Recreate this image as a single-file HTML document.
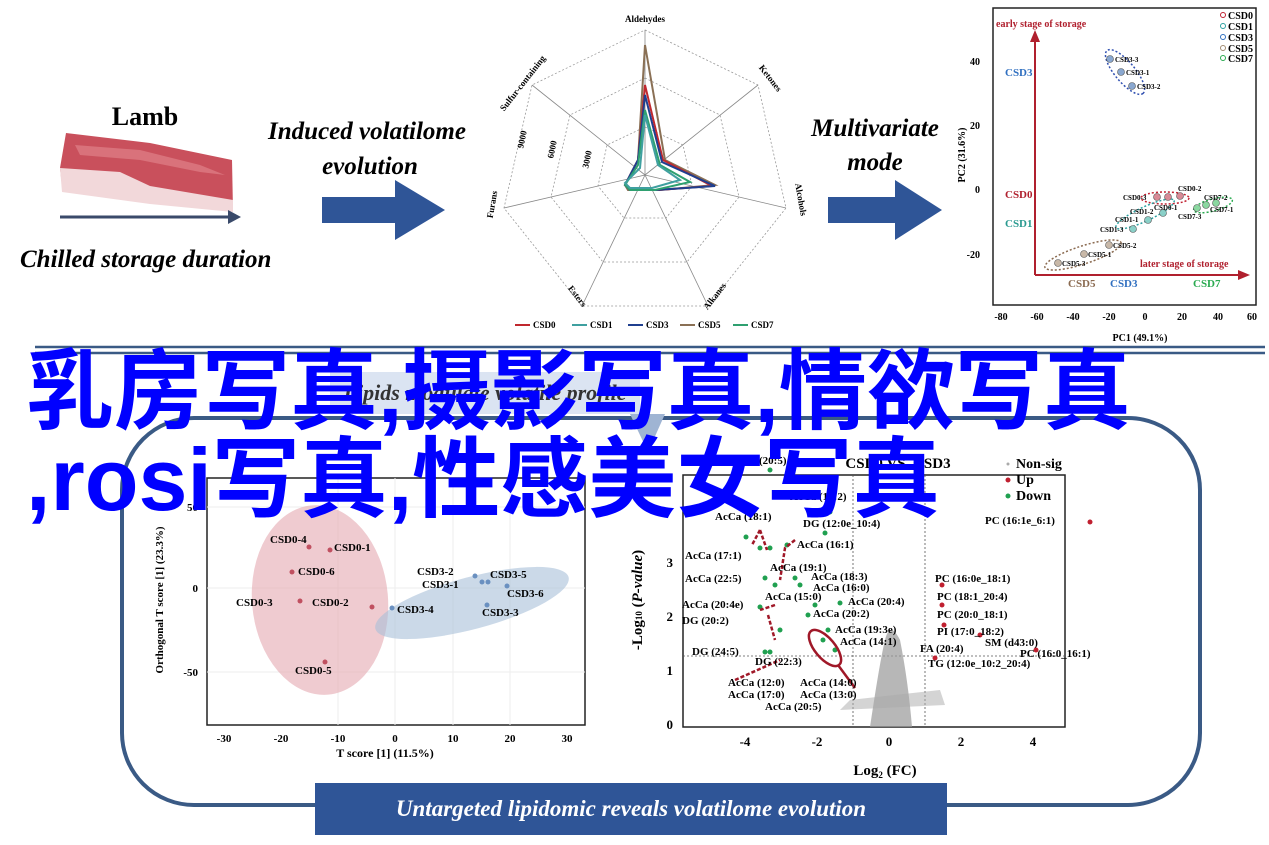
<!DOCTYPE html>
<html><head><meta charset="utf-8"><style>
body{margin:0;width:1269px;height:845px;background:#fff;overflow:hidden;position:relative;font-family:"Liberation Serif",serif}
svg{position:absolute;left:0;top:0}
.big{position:absolute;left:26px;color:#0000ff;font-family:"Liberation Sans","Noto Sans CJK SC",sans-serif;font-size:88px;line-height:88px;white-space:nowrap;font-weight:bold}
</style></head><body>
<svg width="1269" height="845" viewBox="0 0 1269 845" font-family="Liberation Serif, serif" font-weight="bold">
<!-- Lamb -->
<text x="145" y="125" font-size="26" text-anchor="middle">Lamb</text>
<path d="M66 133 L150 143 L232 160 L233 210 L150 200 L62 186 L60 168 Z" fill="#c9505c"/>
<path d="M60 168 L120 172 L150 186 L233 200 L233 212 L150 204 L62 192 Z" fill="#f2d8da"/>
<path d="M75 145 L140 150 L200 165 L225 175 L200 172 L140 160 L80 155 Z" fill="#e48890" opacity="0.6"/>
<line x1="60" y1="217" x2="232" y2="217" stroke="#3a4a6a" stroke-width="3"/>
<polygon points="241,217 228,210 228,224" fill="#3a4a6a"/>
<text x="20" y="267" font-size="25" font-style="italic">Chilled storage duration</text>
<text x="367" y="139" font-size="25" font-style="italic" text-anchor="middle">Induced volatilome</text>
<text x="370" y="174" font-size="25" font-style="italic" text-anchor="middle">evolution</text>
<polygon points="322,197 395,197 395,180 445,210 395,240 395,223 322,223" fill="#2f5597"/>
<text x="875" y="136" font-size="25" font-style="italic" text-anchor="middle">Multivariate</text>
<text x="875" y="170" font-size="25" font-style="italic" text-anchor="middle">mode</text>
<polygon points="828,197 895,197 895,180 942,210 895,240 895,223 828,223" fill="#2f5597"/>
<!-- radar -->
<g fill="none" stroke="#999" stroke-width="0.8" stroke-dasharray="2,2">
<polygon points="645,30 758,85 786,208 708,306 582,306 504,208 532,85"/>
<polygon points="645,78 720,115 739,197 687,262 603,262 551,197 570,115"/>
<polygon points="645,127 683,145 692,186 666,218 624,218 598,186 607,145"/>
</g>
<g stroke="#888" stroke-width="0.8">
<line x1="645" y1="175" x2="645" y2="30"/><line x1="645" y1="175" x2="758" y2="85"/><line x1="645" y1="175" x2="786" y2="208"/><line x1="645" y1="175" x2="708" y2="306"/><line x1="645" y1="175" x2="582" y2="306"/><line x1="645" y1="175" x2="504" y2="208"/><line x1="645" y1="175" x2="532" y2="85"/>
</g>
<g fill="none" stroke-width="2">
<polygon points="645,45 665,160 715,185 660,190 628,190 625,185 638,160" stroke="#8a7055"/>
<polygon points="645,85 663,160 712,186 658,190 630,190 625,185 638,160" stroke="#c0282e"/>
<polygon points="645,95 662,162 715,186 656,190 630,190 625,185 638,160" stroke="#1f3f8f"/>
<polygon points="645,110 660,165 690,182 655,190 630,190 625,185 638,165" stroke="#2fa070"/>
<polygon points="645,115 658,165 680,180 652,188 630,188 625,183 640,168" stroke="#3fa0a0"/>
</g>
<g font-size="9" text-anchor="middle"><text x="645" y="22">Aldehydes</text>
<text x="768" y="80" transform="rotate(52 768 80)">Ketones</text>
<text x="798" y="200" transform="rotate(80 798 200)">Alcohols</text>
<text x="717" y="298" transform="rotate(-52 717 298)">Alkanes</text>
<text x="575" y="298" transform="rotate(52 575 298)">Esters</text>
<text x="495" y="205" transform="rotate(-80 495 205)">Furans</text>
<text x="525" y="85" transform="rotate(-52 525 85)">Sulfur-containing</text>
<text x="525" y="140" transform="rotate(-78 525 140)">9000</text>
<text x="555" y="150" transform="rotate(-78 555 150)">6000</text>
<text x="590" y="160" transform="rotate(-78 590 160)">3000</text>
</g>
<g font-size="9"><line x1="515" y1="325" x2="530" y2="325" stroke="#c0282e" stroke-width="2"/><text x="533" y="328">CSD0</text>
<line x1="572" y1="325" x2="587" y2="325" stroke="#3fa0a0" stroke-width="2"/><text x="590" y="328">CSD1</text>
<line x1="628" y1="325" x2="643" y2="325" stroke="#1f3f8f" stroke-width="2"/><text x="646" y="328">CSD3</text>
<line x1="680" y1="325" x2="695" y2="325" stroke="#8a7055" stroke-width="2"/><text x="698" y="328">CSD5</text>
<line x1="733" y1="325" x2="748" y2="325" stroke="#2fa070" stroke-width="2"/><text x="751" y="328">CSD7</text></g>
<!-- PCA -->
<rect x="993" y="8" width="263" height="297" fill="none" stroke="#222" stroke-width="1.5"/>
<g font-size="10" text-anchor="middle"><text x="1001" y="320">-80</text><text x="1037" y="320">-60</text><text x="1073" y="320">-40</text><text x="1109" y="320">-20</text><text x="1145" y="320">0</text><text x="1182" y="320">20</text><text x="1218" y="320">40</text><text x="1252" y="320">60</text>
<text x="1140" y="341" font-size="10">PC1 (49.1%)</text>
<text x="980" y="65" text-anchor="end">40</text><text x="980" y="129" text-anchor="end">20</text><text x="980" y="193" text-anchor="end">0</text><text x="980" y="258" text-anchor="end">-20</text>
<text x="965" y="155" transform="rotate(-90 965 155)">PC2 (31.6%)</text></g>
<line x1="1035" y1="275" x2="1240" y2="275" stroke="#b0202e" stroke-width="2"/><polygon points="1250,275 1238,270 1238,280" fill="#b0202e"/>
<line x1="1035" y1="275" x2="1035" y2="40" stroke="#b0202e" stroke-width="2"/><polygon points="1035,30 1030,42 1040,42" fill="#b0202e"/>
<text x="996" y="27" font-size="10" fill="#b0202e">early stage of storage</text>
<text x="1140" y="267" font-size="10" fill="#b0202e">later stage of storage</text>
<g font-size="11"><text x="1005" y="76" fill="#2f6fc0">CSD3</text><text x="1005" y="198" fill="#b0202e">CSD0</text><text x="1005" y="227" fill="#2a9a90">CSD1</text>
<text x="1068" y="287" fill="#8a6a50">CSD5</text><text x="1110" y="287" fill="#2f6fc0">CSD3</text><text x="1193" y="287" fill="#2aaa50">CSD7</text></g>
<g fill="none" stroke-dasharray="2,2" stroke-width="1.5"><ellipse cx="1125" cy="72" rx="28" ry="10" transform="rotate(50 1125 72)" stroke="#2f4fb0"/>
<ellipse cx="1165" cy="198" rx="24" ry="6" stroke="#c02030"/><ellipse cx="1145" cy="214" rx="32" ry="7" transform="rotate(-25 1145 214)" stroke="#2aa0a0"/>
<ellipse cx="1213" cy="205" rx="20" ry="6" transform="rotate(-15 1213 205)" stroke="#2aaa50"/><ellipse cx="1083" cy="255" rx="40" ry="9" transform="rotate(-18 1083 255)" stroke="#8a6a50"/></g>
<g stroke="#555" stroke-width="0.6"><circle cx="1110" cy="59" r="3.5" fill="#8aa8d0"/><circle cx="1121" cy="72" r="3.5" fill="#8aa8d0"/><circle cx="1132" cy="86" r="3.5" fill="#8aa8d0"/>
<circle cx="1157" cy="197" r="3.5" fill="#d88a96"/><circle cx="1168" cy="197" r="3.5" fill="#d88a96"/><circle cx="1180" cy="196" r="3.5" fill="#d88a96"/>
<circle cx="1163" cy="213" r="3.5" fill="#8ad0c8"/><circle cx="1148" cy="220" r="3.5" fill="#8ad0c8"/><circle cx="1133" cy="229" r="3.5" fill="#8ad0c8"/>
<circle cx="1197" cy="208" r="3.5" fill="#8ad8a0"/><circle cx="1206" cy="205" r="3.5" fill="#8ad8a0"/><circle cx="1216" cy="203" r="3.5" fill="#8ad8a0"/>
<circle cx="1109" cy="245" r="3.5" fill="#c8b8a8"/><circle cx="1084" cy="254" r="3.5" fill="#c8b8a8"/><circle cx="1058" cy="263" r="3.5" fill="#c8b8a8"/></g>
<g font-size="7"><text x="1115" y="62">CSD3-3</text><text x="1126" y="75">CSD3-1</text><text x="1137" y="89">CSD3-2</text><text x="1123" y="200">CSD0-3</text><text x="1178" y="191">CSD0-2</text><text x="1154" y="210">CSD0-1</text><text x="1130" y="214">CSD1-2</text><text x="1115" y="222">CSD1-1</text><text x="1100" y="232">CSD1-3</text><text x="1204" y="200">CSD7-2</text><text x="1210" y="212">CSD7-1</text><text x="1178" y="219">CSD7-3</text><text x="1113" y="248">CSD5-2</text><text x="1088" y="257">CSD5-1</text><text x="1062" y="266">CSD5-3</text></g>
<g font-size="10"><circle cx="1223" cy="15" r="2.5" fill="none" stroke="#c02030"/><text x="1228" y="19">CSD0</text><circle cx="1223" cy="26" r="2.5" fill="none" stroke="#2aa0a0"/><text x="1228" y="30">CSD1</text><circle cx="1223" cy="37" r="2.5" fill="none" stroke="#2f6fc0"/><text x="1228" y="41">CSD3</text><circle cx="1223" cy="48" r="2.5" fill="none" stroke="#a08a70"/><text x="1228" y="52">CSD5</text><circle cx="1223" cy="58" r="2.5" fill="none" stroke="#2aaa50"/><text x="1228" y="62">CSD7</text></g>
<!-- separator -->
<line x1="35" y1="347" x2="1265" y2="347" stroke="#3a5a85" stroke-width="2.5"/><line x1="35" y1="353" x2="1265" y2="353" stroke="#3a5a85" stroke-width="2.5"/>
<!-- lower box -->
<rect x="122" y="418" width="1078" height="387" rx="72" fill="none" stroke="#3a5a85" stroke-width="4"/>
<rect x="330" y="372" width="310" height="42" fill="#dbe4f2"/>
<polygon points="630,414 665,414 648,452" fill="#9fb4d3"/>
<text x="485" y="400" font-size="22" font-style="italic" text-anchor="middle" fill="#333">Lipids modulate volatile profile</text>
<rect x="315" y="783" width="632" height="52" fill="#2f5597"/>
<text x="631" y="816" font-size="23" font-style="italic" text-anchor="middle" fill="#fff">Untargeted lipidomic reveals volatilome evolution</text>
<!-- OPLS -->
<rect x="207" y="478" width="378" height="247" fill="none" stroke="#222" stroke-width="1.5"/>
<g stroke="#eee"><line x1="207" y1="507" x2="585" y2="507"/><line x1="207" y1="588" x2="585" y2="588"/><line x1="207" y1="672" x2="585" y2="672"/><line x1="338" y1="478" x2="338" y2="725"/><line x1="395" y1="478" x2="395" y2="725"/><line x1="453" y1="478" x2="453" y2="725"/><line x1="510" y1="478" x2="510" y2="725"/></g>
<ellipse cx="320" cy="600" rx="68" ry="95" transform="rotate(-5 320 600)" fill="#e5a8b0" opacity="0.6"/>
<ellipse cx="472" cy="603" rx="100" ry="26" transform="rotate(-15 472 603)" fill="#a8c0d8" opacity="0.6"/>
<g font-size="11" text-anchor="middle"><text x="224" y="742">-30</text><text x="281" y="742">-20</text><text x="338" y="742">-10</text><text x="395" y="742">0</text><text x="453" y="742">10</text><text x="510" y="742">20</text><text x="567" y="742">30</text>
<text x="385" y="757" font-size="12">T score [1] (11.5%)</text>
<text x="198" y="511" text-anchor="end">50</text><text x="198" y="592" text-anchor="end">0</text><text x="198" y="676" text-anchor="end">-50</text>
<text x="163" y="600" font-size="11" transform="rotate(-90 163 600)">Orthogonal T score [1] (23.3%)</text></g>
<g fill="#c05060"><circle cx="309" cy="547" r="2.5"/><circle cx="330" cy="550" r="2.5"/><circle cx="292" cy="572" r="2.5"/><circle cx="300" cy="601" r="2.5"/><circle cx="372" cy="607" r="2.5"/><circle cx="325" cy="662" r="2.5"/></g>
<g fill="#6a90c0"><circle cx="475" cy="576" r="2.5"/><circle cx="482" cy="582" r="2.5"/><circle cx="488" cy="582" r="2.5"/><circle cx="507" cy="586" r="2.5"/><circle cx="392" cy="608" r="2.5"/><circle cx="487" cy="605" r="2.5"/></g>
<g font-size="11"><text x="270" y="543">CSD0-4</text><text x="334" y="551">CSD0-1</text><text x="298" y="575">CSD0-6</text><text x="236" y="606">CSD0-3</text><text x="312" y="606">CSD0-2</text><text x="295" y="674">CSD0-5</text>
<text x="417" y="575">CSD3-2</text><text x="490" y="578">CSD3-5</text><text x="422" y="588">CSD3-1</text><text x="507" y="597">CSD3-6</text><text x="397" y="613">CSD3-4</text><text x="482" y="616">CSD3-3</text></g>
<!-- volcano -->
<text x="898" y="468" font-size="15" text-anchor="middle">CSD0 VS. CSD3</text>
<rect x="683" y="475" width="382" height="252" fill="none" stroke="#222" stroke-width="1.5"/>
<g stroke="#555" stroke-dasharray="2,2" stroke-width="0.8"><line x1="853" y1="475" x2="853" y2="727"/><line x1="925" y1="475" x2="925" y2="727"/><line x1="683" y1="656" x2="1065" y2="656"/></g>
<path d="M870 727 Q880 660 885 640 Q890 620 900 640 Q908 680 912 727 Z" fill="#999" opacity="0.7"/>
<path d="M850 700 L940 690 L945 705 L840 710 Z" fill="#aaa" opacity="0.5"/>
<g font-size="13" text-anchor="middle"><text x="745" y="746">-4</text><text x="817" y="746">-2</text><text x="889" y="746">0</text><text x="961" y="746">2</text><text x="1033" y="746">4</text>
<text x="885" y="775" font-size="15">Log<tspan font-size="9" dy="3">2</tspan><tspan dy="-3"> (FC)</tspan></text>
<text x="673" y="567" text-anchor="end">3</text><text x="673" y="621" text-anchor="end">2</text><text x="673" y="675" text-anchor="end">1</text><text x="673" y="729" text-anchor="end">0</text>
<text x="642" y="600" font-size="15" transform="rotate(-90 642 600)">-Log<tspan font-size="9">10</tspan> (<tspan font-style="italic">P-value</tspan>)</text></g>
<g font-size="14"><circle cx="1008" cy="464" r="1.5" fill="#aaa"/><text x="1016" y="468">Non-sig</text><circle cx="1008" cy="480" r="2.5" fill="#c02030"/><text x="1016" y="484">Up</text><circle cx="1008" cy="496" r="2.5" fill="#20a050"/><text x="1016" y="500">Down</text></g>
<g fill="#c02030"><circle cx="1090" cy="522" r="2.5"/><circle cx="942" cy="585" r="2.5"/><circle cx="942" cy="605" r="2.5"/><circle cx="944" cy="625" r="2.5"/><circle cx="980" cy="635" r="2.5"/><circle cx="1036" cy="650" r="2.5"/><circle cx="935" cy="658" r="2.5"/></g>
<g fill="#20a050"><circle cx="746" cy="537" r="2.5"/><circle cx="760" cy="548" r="2.5"/><circle cx="770" cy="548" r="2.5"/><circle cx="787" cy="545" r="2.5"/><circle cx="825" cy="533" r="2.5"/><circle cx="765" cy="578" r="2.5"/><circle cx="795" cy="578" r="2.5"/><circle cx="800" cy="585" r="2.5"/><circle cx="775" cy="585" r="2.5"/><circle cx="760" cy="607" r="2.5"/><circle cx="815" cy="605" r="2.5"/><circle cx="808" cy="615" r="2.5"/><circle cx="840" cy="603" r="2.5"/><circle cx="780" cy="630" r="2.5"/><circle cx="828" cy="630" r="2.5"/><circle cx="765" cy="652" r="2.5"/><circle cx="770" cy="652" r="2.5"/><circle cx="823" cy="640" r="2.5"/><circle cx="835" cy="650" r="2.5"/><circle cx="770" cy="470" r="2.5"/><circle cx="830" cy="512" r="2.5"/></g>
<g stroke="#a01828" stroke-width="2.5" fill="none" stroke-dasharray="4,2"><path d="M760 530 L767 550 M760 530 L752 545"/><path d="M795 540 L785 548 L780 580"/><path d="M775 605 L760 610"/><path d="M768 615 L775 640"/><path d="M735 680 L780 660"/></g>
<ellipse cx="825" cy="648" rx="10" ry="22" transform="rotate(-40 825 648)" fill="none" stroke="#a01828" stroke-width="2.5"/>
<line x1="838" y1="665" x2="855" y2="688" stroke="#a01828" stroke-width="2.5"/>
<g font-size="11"><text x="730" y="464">AcCa (20:5)</text><text x="790" y="500">AcCa (18:2)</text><text x="715" y="520">AcCa (18:1)</text><text x="803" y="527">DG (12:0e_10:4)</text><text x="797" y="548">AcCa (16:1)</text><text x="685" y="559">AcCa (17:1)</text><text x="770" y="571">AcCa (19:1)</text><text x="685" y="582">AcCa (22:5)</text><text x="811" y="580">AcCa (18:3)</text><text x="813" y="591">AcCa (16:0)</text><text x="765" y="600">AcCa (15:0)</text><text x="682" y="608">AcCa (20:4e)</text><text x="848" y="605">AcCa (20:4)</text><text x="813" y="617">AcCa (20:2)</text><text x="682" y="624">DG (20:2)</text><text x="835" y="633">AcCa (19:3e)</text><text x="840" y="645">AcCa (14:1)</text><text x="692" y="655">DG (24:5)</text><text x="755" y="665">DG (22:3)</text><text x="728" y="686">AcCa (12:0)</text><text x="800" y="686">AcCa (14:0)</text><text x="728" y="698">AcCa (17:0)</text><text x="800" y="698">AcCa (13:0)</text><text x="765" y="710">AcCa (20:5)</text>
<text x="985" y="524">PC (16:1e_6:1)</text><text x="935" y="582">PC (16:0e_18:1)</text><text x="937" y="600">PC (18:1_20:4)</text><text x="937" y="618">PC (20:0_18:1)</text><text x="937" y="635">PI (17:0_18:2)</text><text x="985" y="646">SM (d43:0)</text><text x="920" y="652">FA (20:4)</text><text x="1020" y="657">PC (16:0_16:1)</text><text x="928" y="667">TG (12:0e_10:2_20:4)</text></g>
</svg>
<div class="big" style="top:348px">乳房写真,摄影写真,情欲写真</div>
<div class="big" style="top:436px">,rosi写真,性感美女写真</div>
</body></html>
